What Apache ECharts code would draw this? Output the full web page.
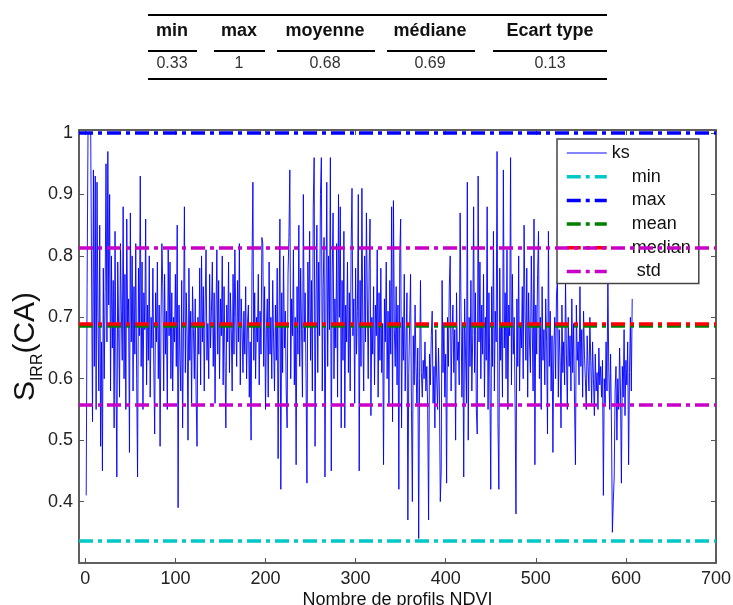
<!DOCTYPE html>
<html><head><meta charset="utf-8">
<script src="https://cdn.jsdelivr.net/npm/echarts@6/dist/echarts.min.js"></script>
<style>html,body{margin:0;padding:0;background:#fff}#c{width:733px;height:605px}</style>
</head><body><div id="c"></div>
<script>
const xTicks = [0,100,200,300,400,500,600,700];
const yTicks = [0.4,0.5,0.6,0.7,0.8,0.9,1];
const tableHeaders = ['min','max','moyenne','médiane','Ecart type'];
const tableValues = ['0.33','1','0.68','0.69','0.13'];
const statNames = ['min','max','mean','median','std'];
const statMin = 0.337, statMax = 1.0, statMean = 0.686, statMedian = 0.689;
const stdBand = [0.558, 0.814];
const ksValues = [
0.41,0.75,1.00,1.00,1.00,1.00,1.00,0.53,0.94,0.62,
0.93,0.55,0.92,0.70,0.58,0.85,0.49,0.66,0.45,0.78,
0.60,0.74,0.95,0.66,0.97,0.72,0.90,0.58,0.80,0.65,
0.76,0.52,0.84,0.62,0.44,0.79,0.68,0.57,0.82,0.71,
0.63,0.88,0.60,0.77,0.55,0.86,0.69,0.73,0.48,0.87,
0.66,0.80,0.58,0.75,0.64,0.82,0.60,0.44,0.78,0.67,
0.93,0.62,0.79,0.55,0.74,0.68,0.86,0.59,0.72,0.63,
0.80,0.57,0.70,0.65,0.78,0.62,0.51,0.74,0.66,0.79,
0.60,0.72,0.49,0.69,0.82,0.75,0.58,0.77,0.64,0.71,
0.55,0.81,0.67,0.79,0.60,0.74,0.58,0.70,0.66,0.77,
0.62,0.85,0.39,0.72,0.64,0.58,0.76,0.52,0.69,0.88,
0.61,0.74,0.67,0.50,0.78,0.63,0.71,0.56,0.75,0.68,
0.60,0.73,0.57,0.49,0.70,0.64,0.78,0.59,0.80,0.66,
0.75,0.58,0.72,0.81,0.63,0.69,0.60,0.77,0.65,0.71,
0.79,0.62,0.74,0.56,0.70,0.81,0.64,0.76,0.60,0.73,
0.67,0.80,0.59,0.75,0.63,0.52,0.72,0.66,0.79,0.61,
0.74,0.68,0.58,0.77,0.64,0.81,0.70,0.62,0.76,0.66,
0.82,0.59,0.73,0.68,0.61,0.71,0.64,0.75,0.60,0.69,
0.72,0.57,0.66,0.50,0.78,0.92,0.63,0.74,0.60,0.70,
0.66,0.77,0.59,0.71,0.64,0.83,0.82,0.62,0.75,0.55,
0.68,0.73,0.57,0.79,0.64,0.70,0.60,0.76,0.66,0.58,
0.72,0.63,0.78,0.47,0.69,0.86,0.42,0.74,0.61,0.80,
0.65,0.71,0.58,0.52,0.77,0.83,0.94,0.60,0.73,0.67,
0.81,0.59,0.70,0.46,0.75,0.64,0.85,0.62,0.78,0.68,
0.57,0.90,0.66,0.74,0.60,0.43,0.79,0.69,0.84,0.63,
0.76,0.58,0.88,0.96,0.49,0.72,0.85,0.61,0.79,0.67,
0.90,0.96,0.58,0.75,0.83,0.44,0.70,0.92,0.62,0.80,
0.68,0.96,0.45,0.77,0.87,0.60,0.73,0.65,0.82,0.57,
0.90,0.70,0.88,0.52,0.76,0.63,0.84,0.52,0.72,0.66,
0.79,0.61,0.74,0.58,0.81,0.91,0.67,0.73,0.56,0.78,
0.64,0.71,0.90,0.45,0.76,0.62,0.91,0.68,0.58,0.80,
0.66,0.87,0.73,0.60,0.78,0.86,0.54,0.70,0.64,0.75,
0.59,0.72,0.67,0.81,0.57,0.74,0.63,0.78,0.61,0.69,
0.46,0.73,0.66,0.79,0.60,0.71,0.56,0.76,0.64,0.88,
0.53,0.89,0.68,0.62,0.75,0.59,0.72,0.42,0.80,0.86,
0.52,0.70,0.63,0.77,0.58,0.66,0.74,0.37,0.61,0.69,
0.77,0.55,0.40,0.67,0.59,0.72,0.62,0.56,0.65,0.34,
0.60,0.76,0.61,0.57,0.63,0.60,0.66,0.58,0.62,0.55,
0.37,0.64,0.59,0.67,0.71,0.56,0.62,0.52,0.68,0.60,
0.55,0.65,0.58,0.40,0.45,0.76,0.61,0.69,0.57,0.64,
0.43,0.70,0.62,0.75,0.80,0.58,0.67,0.72,0.61,0.68,
0.50,0.74,0.63,0.66,0.59,0.87,0.71,0.57,0.69,0.44,
0.73,0.64,0.56,0.92,0.50,0.70,0.62,0.76,0.58,0.67,
0.88,0.61,0.74,0.55,0.51,0.93,0.66,0.79,0.60,0.72,
0.64,0.77,0.57,0.70,0.63,0.88,0.55,0.74,0.60,0.42,
0.75,0.62,0.84,0.58,0.71,0.66,0.97,0.53,0.42,0.78,
0.63,0.69,0.57,0.94,0.65,0.74,0.60,0.81,0.55,0.72,
0.67,0.96,0.59,0.77,0.64,0.70,0.56,0.38,0.73,0.62,
0.80,0.58,0.69,0.65,0.75,0.60,0.85,0.71,0.63,0.78,
0.57,0.74,0.66,0.61,0.80,0.69,0.58,0.86,0.46,0.72,
0.64,0.77,0.84,0.60,0.70,0.55,0.75,0.63,0.68,0.59,
0.73,0.66,0.51,0.84,0.62,0.71,0.58,0.67,0.48,0.65,
0.70,0.60,0.74,0.76,0.57,0.68,0.63,0.52,0.72,0.61,
0.66,0.59,0.76,0.64,0.55,0.70,0.62,0.67,0.58,0.73,
0.61,0.69,0.56,0.46,0.72,0.63,0.66,0.59,0.75,0.62,
0.68,0.57,0.71,0.64,0.60,0.55,0.67,0.62,0.58,0.70,
0.63,0.56,0.66,0.60,0.54,0.64,0.58,0.61,0.55,0.65,
0.59,0.62,0.57,0.63,0.41,0.60,0.56,0.66,0.58,0.77,
0.61,0.55,0.64,0.52,0.35,0.40,0.44,0.58,0.62,0.50,
0.60,0.55,0.65,0.58,0.43,0.62,0.57,0.68,0.54,0.63,
0.59,0.66,0.46,0.61,0.70,0.58,0.73
];

const FONT = '"Liberation Sans", Arial, sans-serif';
const chart = echarts.init(document.getElementById('c'), null, {renderer:'canvas'});

const dash = [14,5,4,5];
const statColors = {min:'#00c8c8', max:'#0000ff', mean:'#008000', median:'#ff0000', std:'#c800c8'};
function statSeries(name, vals){
  return {
    name, type:'line', data:[], symbol:'none', silent:true,
    lineStyle:{color:statColors[name], width:3, type:dash},
    itemStyle:{color:statColors[name]},
    markLine:{silent:true, symbol:'none', label:{show:false}, precision:4,
      lineStyle:{color:statColors[name], width:3.5, type:dash},
      emphasis:{disabled:true},
      data: vals.map(v=>({yAxis:v}))}
  };
}

// table graphics
const colCenters = [172,239,325,430,550];
const segs = [[148,197],[214,265],[277,375],[387,475],[493,607]];
const graphics = [
  {type:'rect', shape:{x:148,y:14,width:459,height:2}, style:{fill:'#000'}},
  {type:'rect', shape:{x:148,y:78,width:459,height:2}, style:{fill:'#000'}}
];
segs.forEach(s=>graphics.push({type:'rect', shape:{x:s[0],y:50,width:s[1]-s[0],height:2}, style:{fill:'#000'}}));
tableHeaders.forEach((h,i)=>graphics.push({type:'text', x:colCenters[i], y:31,
  style:{text:h, font:'bold 18px '+FONT, fill:'#111', align:'center', verticalAlign:'middle'}}));
tableValues.forEach((v,i)=>graphics.push({type:'text', x:colCenters[i], y:64,
  style:{text:v, font:'16px '+FONT, fill:'#333', align:'center', verticalAlign:'middle'}}));

const axisCommon = {
  axisLine:{show:true, onZero:false, lineStyle:{color:'#555', width:1.5}},
  splitLine:{show:false}
};
const tickBase = {show:true, inside:true, length:5, lineStyle:{color:'#555'}};

const option = {
  animation:false,
  backgroundColor:'#fff',
  grid:{left:79, top:130, right:17, bottom:42, show:true, borderColor:'#555', borderWidth:1.5,
        backgroundColor:'#fff', outerBoundsMode:'none', containLabel:false},
  graphic: graphics,
  legend:{
    orient:'vertical', left:557, top:139, selectedMode:false,
    data: [{name:'ks', lineStyle:{width:2, color:'#7878ff'}}].concat(statNames.map(n=>({name:n, lineStyle:{width:3.5}}))),
    backgroundColor:'#fff', borderColor:'#444', borderWidth:1.5, borderRadius:0,
    padding:[5,8,3,8], itemWidth:40, itemHeight:14, itemGap:5.7,
    itemStyle:{opacity:0},
    textStyle:{fontFamily:FONT, fontSize:18, color:'#111', lineHeight:18},
    formatter: n => n==='ks' ? 'ks' : (n==='std' ? '     std' : '    '+n)
  },
  xAxis:[
    Object.assign({type:'value', min:-7, max:700,
      name:'Nombre de profils NDVI', nameLocation:'middle', nameGap:28, nameMoveOverlap:false,
      nameTextStyle:{fontFamily:FONT, fontSize:18, color:'#111'},
      axisLabel:{customValues:xTicks, fontFamily:FONT, fontSize:18, color:'#222', margin:7},
      axisTick:Object.assign({customValues:xTicks}, tickBase)
    }, axisCommon),
    Object.assign({type:'value', min:-7, max:700, position:'top', axisLabel:{show:false},
      axisTick:Object.assign({customValues:xTicks}, tickBase)}, axisCommon)
  ],
  yAxis:[
    Object.assign({type:'value', min:0.3, max:1.005,
      name:'{s|S}{sub|IRR}{s|(CA)}', nameLocation:'middle', nameGap:33, nameRotate:90, nameMoveOverlap:false,
      nameTextStyle:{rich:{
        s:{fontFamily:FONT, fontSize:30, color:'#111', padding:[0,0,5,0]},
        sub:{fontFamily:FONT, fontSize:16, color:'#111', verticalAlign:'bottom'}
      }},
      axisLabel:{customValues:yTicks, fontFamily:FONT, fontSize:18, color:'#222', margin:6,
        formatter: v => String(+(+v).toFixed(1))},
      axisTick:Object.assign({customValues:yTicks}, tickBase)
    }, axisCommon),
    Object.assign({type:'value', min:0.3, max:1.005, position:'right', axisLabel:{show:false},
      axisTick:Object.assign({customValues:yTicks}, tickBase)}, axisCommon)
  ],
  series:[
    {name:'ks', type:'line', symbol:'none', silent:true,
     data: ksValues.map((v,i)=>[i+1, v]),
     lineStyle:{color:'#0000ff', width:1, opacity:0.9}, itemStyle:{color:'#7070ff'}},
    statSeries('min',[statMin]),
    statSeries('max',[statMax]),
    statSeries('mean',[statMean]),
    statSeries('median',[statMedian]),
    statSeries('std',stdBand)
  ]
};
chart.setOption(option);
</script></body></html>
